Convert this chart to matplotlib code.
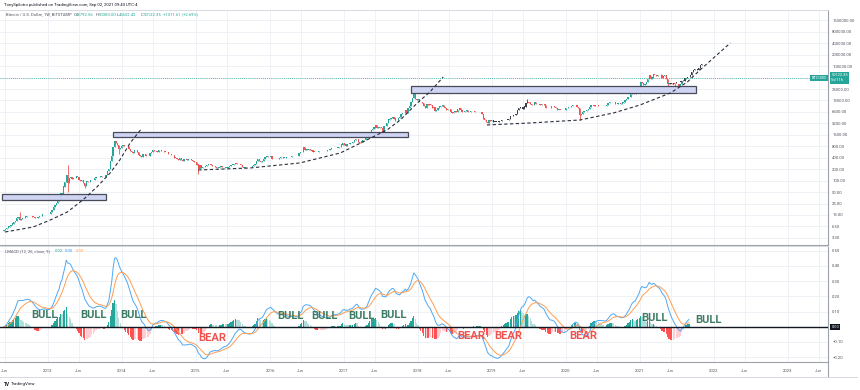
import numpy as np
import pandas as pd
import matplotlib
matplotlib.use("Agg")
import matplotlib.pyplot as plt
from matplotlib.patches import Rectangle
from matplotlib.lines import Line2D
from matplotlib.ticker import FixedLocator, FixedFormatter, NullLocator
import matplotlib.transforms as mtrans

plt.rcParams['font.family'] = ['Roboto', 'DejaVu Sans']

# ---------------- data (weekly closes, BITSTAMP BTCUSD) ----------------
start_date = '2012-05-28'
close_2012 = [5.1,
              5.5, 5.9, 6.4, 6.7,
              6.9, 7.7, 8.6, 8.9, 10.9,
              11.5, 9.8, 10.2, 10.6,
              11.0, 11.7, 12.2, 12.4,
              12.4, 11.8, 11.7, 11.2, 10.9,
              10.8, 11.1, 11.8, 12.3,
              13.3, 13.5, 13.3, 13.4, 13.6]
close_2013 = [14.0, 15.6, 17.6, 20.4,
              23.6, 26.9, 29.9, 33.4,
              46.9, 47.0, 71.5, 93.0,
              142, 90, 119, 128, 112,
              117, 122, 131, 129,
              108, 99, 103, 88,
              76, 98, 92, 94, 104,
              105, 108, 117, 127,
              125, 128, 133, 125, 126,
              127, 140, 186, 205,
              330, 440, 790, 1120,
              985, 870, 690, 740, 800]
close_2014 = [870, 820, 830, 800,
              680, 610, 560, 550,
              640, 635, 585, 470, 450,
              420, 510, 495, 440,
              440, 445, 525, 575,
              650, 595, 600, 580, 630,
              630, 620, 600, 590,
              585, 560, 500, 505,
              485, 475, 410, 400, 385,
              360, 390, 355, 330,
              375, 385, 365, 375,
              375, 350, 330, 315, 310]
close_2015 = [270, 210, 255, 220,
              228, 235, 240, 255,
              275, 285, 260, 245, 245,
              235, 225, 225, 235,
              240, 235, 237, 225,
              225, 235, 245, 255, 270,
              275, 290, 280, 285,
              280, 260, 230, 225, 230,
              235, 230, 232, 236,
              245, 265, 285, 325,
              385, 330, 320, 330, 375,
              415, 450, 420, 430]
close_2016 = [450, 385, 385, 380,
              375, 380, 405, 420, 430,
              410, 410, 415, 415,
              420, 430, 445, 450,
              455, 450, 440, 530, 575,
              585, 765, 665, 670,
              650, 670, 655, 625,
              590, 580, 580, 575, 610,
              605, 608, 600, 610,
              618, 640, 650, 700, 730,
              710, 740, 735, 750,
              770, 790, 900, 960]
close_2017 = [900, 820, 920, 920, 1010,
              1000, 1050, 1180, 1250,
              1230, 1020, 960, 1080,
              1180, 1190, 1340, 1430,
              1790, 1950, 2200, 2250, 2500,
              2900, 2500, 2550, 2500,
              2500, 1950, 2750, 2700, 3200,
              4050, 4100, 4350, 4600,
              4300, 3700, 3800, 4350,
              4600, 5650, 6000, 6150, 7300,
              5900, 8000, 9200, 11500,
              15000, 19000, 13800, 13500]
close_2018 = [13800, 11500, 11500, 11200, 9200,
              8100, 10300, 9600, 10400,
              9500, 8200, 8500, 6900,
              7000, 8000, 8900, 9300, 9700,
              8500, 8300, 7400, 7700,
              7600, 6500, 6100, 6400,
              6750, 6300, 7400, 8200, 7000,
              6300, 6400, 6700, 7000,
              6400, 6500, 6700, 6600,
              6600, 6300, 6500, 6400, 6350,
              6400, 5600, 4300, 4000,
              3400, 3250, 3900, 3700, 4000]
close_2019 = [3600, 3600, 3550, 3450,
              3650, 3650, 3950, 3850,
              3900, 4000, 4050, 4100,
              5050, 5050, 5300, 5200, 5800,
              7250, 8000, 8700, 8700,
              7800, 8900, 10700, 11800,
              11300, 10300, 9700, 9500, 11500,
              10400, 10200, 10100, 9600,
              10400, 10300, 10000, 8000, 8300,
              8300, 8200, 9400, 9200,
              8800, 8000, 7100, 7400,
              7100, 7100, 7300, 7300, 8100]
close_2020 = [8200, 8700, 8400, 9350,
              9900, 9700, 9700, 8700,
              8000, 5300, 5800, 6400, 6900,
              6900, 7100, 7700, 8800,
              9700, 9700, 9400, 9500,
              9700, 9400, 9300, 9100, 9250,
              9300, 9200, 9900, 11000,
              11700, 11900, 11700, 11700, 10300,
              10300, 11100, 10700, 10650,
              11300, 11500, 13100, 13800,
              15500, 16000, 18400, 19700, 19300,
              19100, 23800, 26500, 29000]
close_2021 = [38000, 36000, 32200, 34300,
              38900, 47200, 57500, 46000,
              50900, 61000, 58000, 55900, 58800,
              59800, 60000, 50000, 57000,
              58200, 46400, 34700, 35700, 35800,
              35500, 35800, 34600, 35000,
              34200, 31500, 35400, 42000,
              44600, 47000, 49000, 48900, 50122.35]

# notable wicks
high_dates = ['2012-08-13', '2013-04-08', '2017-12-11', '2019-06-24', '2021-04-12']
high_vals = [15.4, 266, 19666, 13880, 64800]
low_dates = ['2013-04-08', '2013-07-01', '2013-12-16', '2015-01-12', '2020-03-09', '2021-05-17', '2021-06-21']
low_vals = [50, 66, 520, 152, 3850, 30000, 28800]

# bars-pattern (dark) source range and its projection
pattern_from, pattern_to = '2019-01-07', '2019-06-24'
proj_start = '2021-05-17'
proj_close = [36000, 36000, 35500, 34500, 36500, 36500, 39500, 38500, 39000, 40000,
              40500, 41000, 50500, 50500, 53000, 52000, 58000, 72500, 80000, 87000,
              87000, 78000, 89000, 107000, 118000]

# resistance boxes: (start year, end year, low price, high price)
box_x0 = [2012.38, 2013.88, 2017.90]
box_x1 = [2013.78, 2017.86, 2021.76]
box_lo = [31.6, 1440, 20700]
box_hi = [45.5, 1950, 29900]

# dashed curves (decimal year, price)
curve1_x = [2012.42, 2012.80, 2013.03, 2013.26, 2013.47, 2013.66, 2013.84, 2013.97, 2014.11, 2014.27]
curve1_y = [4.62, 6.25, 9.5, 15.4, 31.8, 69.6, 162, 355, 988, 2440]
curve2_x = [2015.03, 2015.73, 2016.40, 2016.95, 2017.28, 2017.58, 2017.76, 2017.99, 2018.16, 2018.34]
curve2_y = [194, 219, 296, 541, 1114, 2163, 3950, 11010, 21370, 52760]
curve3_x = [2018.93, 2019.51, 2020.19, 2020.64, 2021.00, 2021.41, 2021.64, 2021.81, 2022.22]
curve3_y = [2924, 3297, 3950, 6025, 9762, 20120, 39050, 80470, 409600]

# labels in MACD pane
bull_x = [2012.95, 2013.61, 2014.15, 2016.27, 2016.74, 2017.23, 2017.67, 2021.19, 2021.92]
bull_y = [0.077, 0.077, 0.077, 0.070, 0.070, 0.070, 0.074, 0.057, 0.044]
bear_x = [2015.22, 2018.72, 2019.22, 2020.23]
bear_y = [-0.074, -0.062, -0.062, -0.062]

price_ticks = [3.3, 6.5, 13, 25, 50, 100, 200, 400, 800, 1600, 3200, 6500, 13000, 25000,
               100000, 200000, 400000, 800000, 1600000]
macd_ticks = [-0.2, -0.1, 0.1, 0.2, 0.3, 0.4, 0.5]

# ---------------- helpers ----------------
def dec_year(d):
    d = pd.Timestamp(d)
    ndays = 366 if d.is_leap_year else 365
    return d.year + (d.dayofyear - 1) / ndays

closes = np.array(close_2012 + close_2013 + close_2014 + close_2015 + close_2016 +
                  close_2017 + close_2018 + close_2019 + close_2020 + close_2021, dtype=float)
dates = pd.date_range(start_date, periods=len(closes), freq='7D')
xs = np.array([dec_year(d) for d in dates])
opens = np.concatenate([[5.0], closes[:-1]])
highs = np.maximum(opens, closes)
lows = np.minimum(opens, closes)
for d, v in zip(high_dates, high_vals):
    i = np.where(dates == pd.Timestamp(d))[0]
    if len(i):
        highs[i[0]] = max(highs[i[0]], v)
for d, v in zip(low_dates, low_vals):
    i = np.where(dates == pd.Timestamp(d))[0]
    if len(i):
        lows[i[0]] = min(lows[i[0]], v)

UP, DOWN, DARK = '#26a69a', '#ef5350', '#3b3f47'
pat_mask = (dates >= pd.Timestamp(pattern_from)) & (dates <= pd.Timestamp(pattern_to))
colors = np.where(closes >= opens, UP, DOWN).astype(object)
colors[pat_mask] = DARK

# ---------------- figure ----------------
W, H = 860, 390
fig = plt.figure(figsize=(W / 100, H / 100), dpi=100)
fig.patch.set_facecolor('white')

def fy(y):
    return 1 - y / H

X0, X1 = 0, 828
axp = fig.add_axes([X0 / W, fy(245), (X1 - X0) / W, (245 - 10) / H])
axm = fig.add_axes([X0 / W, fy(362), (X1 - X0) / W, (362 - 246) / H], sharex=axp)

xl = (2012.351, 2023.54)
axp.set_xlim(*xl)
axp.set_yscale('log')
axp.set_ylim(2.11, 2.99e6)
axm.set_ylim(-0.232, 0.531)

GRID = '#eef1f6'
AXC = '#9ea2ab'
TXT = '#50535e'

# x ticks
xticks, xlabels = [], []
for yr in range(2012, 2024):
    if yr >= 2013:
        xticks.append(dec_year(f'{yr}-01-01'))
        xlabels.append(str(yr))
    xticks.append(dec_year(f'{yr}-06-01'))
    xlabels.append('Jun')
for ax in (axp, axm):
    for t in xticks:
        ax.axvline(t, color=GRID, lw=0.7, zorder=0)

# ---- price pane ----
for t in price_ticks + [50000]:
    axp.axhline(t, color=GRID, lw=0.7, zorder=0)

wbody = 6.0 / 365
axp.vlines(xs, lows, highs, colors=list(colors), lw=0.6, zorder=3)
axp.bar(xs, np.abs(closes - opens) + closes * 0.006, bottom=np.minimum(opens, closes),
        width=wbody, color=list(colors), edgecolor='none', zorder=3)

# projection (bars pattern)
pdates = pd.date_range(proj_start, periods=len(proj_close), freq='7D')
pxs = np.array([dec_year(d) for d in pdates])
pc = np.array(proj_close, dtype=float)
po = np.concatenate([[37000.0], pc[:-1]])
axp.vlines(pxs, np.minimum(po, pc), np.maximum(po, pc), colors=DARK, lw=0.6, zorder=4)
axp.bar(pxs, np.abs(pc - po) + pc * 0.006, bottom=np.minimum(po, pc), width=wbody,
        color=DARK, edgecolor='none', zorder=4)

# boxes
for a, b, lo, hi in zip(box_x0, box_x1, box_lo, box_hi):
    axp.add_patch(Rectangle((a, lo), b - a, hi - lo, facecolor='#cdd2f3', edgecolor='#3d4150',
                            lw=0.9, alpha=0.95, zorder=5))

# dashed curves
for cx, cy in ((curve1_x, curve1_y), (curve2_x, curve2_y), (curve3_x, curve3_y)):
    axp.plot(cx, cy, ls=(0, (3, 2.2)), color='#2a2e39', lw=0.8, zorder=6)

# last price line
last = closes[-1]
axp.axhline(last, color=UP, lw=0.6, ls=(0, (1, 1.5)), zorder=2)

axp.yaxis.tick_right()
axp.yaxis.set_major_locator(FixedLocator(price_ticks))
axp.yaxis.set_major_formatter(FixedFormatter([f'{t:.2f}' for t in price_ticks]))
axp.yaxis.set_minor_locator(NullLocator())
axp.tick_params(axis='y', length=0, pad=3, labelsize=3.0, labelcolor=TXT)
axp.tick_params(axis='x', length=0, labelbottom=False)

trp = mtrans.blended_transform_factory(axp.transAxes, axp.transData)
axp.text(1.004, last, f'{last:.2f}\n5d 11h', transform=trp, ha='left', va='center', fontsize=2.9,
         color='white', linespacing=1.3,
         bbox=dict(boxstyle='square,pad=0.35', fc=UP, ec='none'), zorder=10, clip_on=False)
axp.text(0.998, last, 'BTCUSD', transform=trp, ha='right', va='center', fontsize=2.9,
         color='white', bbox=dict(boxstyle='square,pad=0.3', fc=UP, ec='none'), zorder=10)

# ---- LMACD pane: log of fast / slow EMA of close ----
cs = pd.Series(closes)
macd = np.log(cs.ewm(span=12, adjust=False).mean()) - np.log(cs.ewm(span=26, adjust=False).mean())
signal = macd.ewm(span=9, adjust=False).mean()
hist = (macd - signal).values
prev = np.concatenate([[0.0], hist[:-1]])
hcol = np.where(hist >= 0, np.where(hist > prev, '#26a69a', '#b2dfdb'),
                np.where(hist > prev, '#ffcdd2', '#ff5252'))
for t in macd_ticks:
    axm.axhline(t, color=GRID, lw=0.7, zorder=0)
axm.bar(xs, hist, width=6.0 / 365, color=list(hcol), edgecolor='none', zorder=2)
axm.plot(xs, macd.values, color='#4fa8f5', lw=0.7, zorder=3)
axm.plot(xs, signal.values, color='#ff9d52', lw=0.7, zorder=3)
axm.axhline(0, color='#131722', lw=1.0, zorder=4)

for bx, by in zip(bull_x, bull_y):
    axm.text(bx, by, 'BULL', ha='center', va='center', fontsize=8, fontweight='bold',
             color='#3b7c63', zorder=8)
for bx, by in zip(bear_x, bear_y):
    axm.text(bx, by, 'BEAR', ha='center', va='center', fontsize=8, fontweight='bold',
             color='#f0524f', zorder=8)

axm.yaxis.tick_right()
axm.yaxis.set_major_locator(FixedLocator(macd_ticks))
axm.yaxis.set_major_formatter(FixedFormatter([f'{t:.2f}'.replace('-', '\u2212') for t in macd_ticks]))
axm.tick_params(axis='y', length=0, pad=3, labelsize=3.0, labelcolor=TXT)
axm.set_xticks(xticks)
axm.set_xticklabels(xlabels)
axm.tick_params(axis='x', length=0, pad=5, labelsize=3.0, labelcolor=TXT)
trm = mtrans.blended_transform_factory(axm.transAxes, axm.transData)
axm.text(1.004, 0, '0.00', transform=trm, ha='left', va='center', fontsize=2.9, color='white',
         bbox=dict(boxstyle='square,pad=0.3', fc='#131722', ec='none'), zorder=10, clip_on=False)

axm.text(0.006, 0.955, 'LMACD (12, 26, close, 9)', transform=axm.transAxes, fontsize=3.0,
         color=TXT, va='center', ha='left')
for xp, s, c in ((55, '0.02', '#26a69a'), (65, '0.05', '#2196f3'), (76, '0.03', '#ff9d52')):
    fig.text(xp / W, fy(250.5), s, fontsize=3.0, color=c, va='center', ha='left')

# spines
for ax in (axp, axm):
    ax.spines['left'].set_visible(False)
    ax.spines['right'].set_color(AXC)
    ax.spines['right'].set_linewidth(0.8)
    ax.spines['top'].set_color('#d6d9e0')
    ax.spines['bottom'].set_color(AXC)
    ax.spines['top'].set_linewidth(0.7)
    ax.spines['bottom'].set_linewidth(0.8)
    ax.set_facecolor('white')

# outer frame lines
fig.add_artist(Line2D([X1 / W, X1 / W], [fy(362), fy(377)], color=AXC, lw=0.8))
fig.add_artist(Line2D([0, 857 / W], [fy(377), fy(377)], color='#d6d9e0', lw=0.7))

# header texts
fig.text(4 / W, fy(5), 'TonySpilotro published on TradingView.com, Sep 02, 2021 09:43 UTC-4',
         fontsize=3.1, color='#131722', va='center', ha='left')
fig.text(6 / W, fy(14.5), 'Bitcoin / U.S. Dollar, 1W, BITSTAMP', fontsize=3.0, color=TXT,
         va='center', ha='left')
for xp, lab, val in ((74, 'O', '48792.56'), (96, 'H', '50380.00'), (117, 'L', '46632.42'),
                     (141, 'C', '50122.35')):
    fig.text(xp / W, fy(14.5), lab, fontsize=3.0, color=TXT, va='center', ha='left')
    fig.text((xp + 2.3) / W, fy(14.5), val, fontsize=3.0, color=UP, va='center', ha='left')
fig.text(163 / W, fy(14.5), '+1311.61 (+2.69%)', fontsize=3.0, color=UP, va='center', ha='left')

fig.text(4 / W, fy(384), 'TV', fontsize=3.4, color='#131722', fontweight='bold', va='center', ha='left')
fig.text(11 / W, fy(384), 'TradingView', fontsize=3.2, color='#131722', va='center', ha='left')

fig.savefig('out.png', dpi=100, facecolor='white')
